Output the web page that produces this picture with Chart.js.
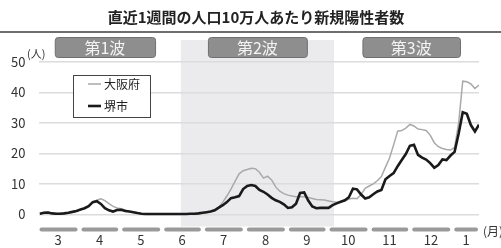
<!DOCTYPE html>
<html>
<head>
<meta charset="utf-8">
<script src="https://cdn.jsdelivr.net/npm/chart.js@4.4.1/dist/chart.umd.min.js"></script>
<style>
  html, body { margin: 0; padding: 0; background: #fff; }
  canvas { display: block; }
</style>
</head>
<body>
<canvas id="canvas" width="501" height="248"></canvas>
<script>
// days counted from March 1st; one reading every 3 days starting on day 1
const firstDay = 1;
const dayStep = 3;

// 堺市 (black)
const sakai = [
  0.2, 0.5, 0.6, 0.3, 0.2, 0.2, 0.3, 0.5, 0.8, 1.1,
  1.6, 2.0, 2.7, 4.0, 4.3, 3.4, 2.0, 1.3, 0.9, 1.4,
  1.5, 1.1, 0.9, 0.7, 0.4, 0.2, 0.1, 0.1, 0.1, 0.1,
  0.1, 0.1, 0.1, 0.1, 0.1, 0.1, 0.1, 0.2, 0.2, 0.3,
  0.5, 0.7, 0.9, 1.3, 2.2, 3.0, 4.0, 5.3, 5.6, 6.0,
  8.3, 9.3, 9.6, 9.3, 8.0, 7.4, 6.5, 5.4, 4.6, 4.1,
  3.3, 2.1, 2.3, 3.5, 7.0, 7.2, 4.5, 2.6, 2.0, 2.1,
  2.1, 2.1, 3.0, 3.6, 4.1, 4.6, 5.6, 8.4, 8.2, 6.5,
  5.2, 5.6, 6.6, 7.5, 8.0, 11.5, 12.6, 13.5, 15.8, 17.8,
  19.8, 22.5, 22.8, 19.5, 18.6, 18.0, 16.8, 15.3, 16.2, 18.0,
  17.8, 19.3, 20.5, 26.5, 33.5, 33.0, 29.3, 27.2, 29.4
];

// 大阪府 (grey)
const osaka = [
  0.2, 0.6, 0.7, 0.4, 0.3, 0.3, 0.3, 0.5, 0.7, 1.0,
  1.5, 2.0, 2.8, 4.0, 4.6, 5.1, 4.5, 3.5, 2.6, 2.1,
  1.8, 1.4, 1.0, 0.7, 0.4, 0.2, 0.1, 0.1, 0.1, 0.1,
  0.1, 0.1, 0.1, 0.1, 0.1, 0.1, 0.1, 0.1, 0.1, 0.2,
  0.4, 0.6, 1.0, 1.5, 2.3, 4.0, 6.0, 8.3, 10.8, 13.3,
  14.3, 14.7, 15.1, 15.0, 13.8, 11.9, 12.5, 11.3, 9.0, 7.6,
  6.8, 6.3, 6.0, 5.8, 5.8, 5.8, 5.5, 5.2, 4.9, 4.8,
  4.7, 4.4, 4.1, 4.0, 4.1, 4.4, 5.0, 5.3, 5.1, 6.5,
  8.5, 9.3, 10.0, 11.0, 12.4, 15.5, 18.5, 22.8, 27.3, 27.5,
  28.3, 29.5, 29.0, 28.0, 27.8, 27.5, 26.0, 23.5, 22.2, 21.6,
  21.3, 21.1, 22.0, 30.0, 43.7, 43.5, 42.8, 41.3, 42.4
];

const monthLabels = ["3", "4", "5", "6", "7", "8", "9", "10", "11", "12", "1"];
const monthStarts = [0, 31, 61, 92, 122, 153, 184, 214, 245, 275, 306];
const yTicks = [0, 10, 20, 30, 40, 50];

const waves = [
  { label: "第1波", from: 12, to: 86 },
  { label: "第2波", from: 125, to: 198 },
  { label: "第3波", from: 239, to: 311 }
];
const secondWave = { from: 105, to: 218 };

const xMax = 325;
const yMin = -4;
const yMax = 50;
const FONT = "'Noto Sans CJK JP', 'Noto Sans', sans-serif";

const toPoints = arr => arr.map((v, i) => ({ x: firstDay + i * dayStep, y: v }));

const decor = {
  id: "decor",
  beforeDraw(chart) {
    const { ctx, scales: { x, y } } = chart;
    ctx.save();
    ctx.fillStyle = "#ebebed";
    const x0 = x.getPixelForValue(secondWave.from);
    const x1 = x.getPixelForValue(secondWave.to);
    ctx.fillRect(x0, 40, x1 - x0, y.getPixelForValue(yMin) - 40);
    ctx.restore();
  },
  afterDraw(chart) {
    const { ctx, scales: { x } } = chart;
    ctx.save();

    // title + rule
    ctx.fillStyle = "#222";
    ctx.font = "bold 15px " + FONT;
    ctx.textAlign = "center";
    ctx.textBaseline = "middle";
    ctx.fillText("直近1週間の人口10万人あたり新規陽性者数", 256, 17);
    ctx.fillStyle = "#6e6e6e";
    ctx.fillRect(0, 31, 501, 2);

    // wave boxes
    waves.forEach(w => {
      const a = x.getPixelForValue(w.from), b = x.getPixelForValue(w.to);
      ctx.beginPath();
      ctx.roundRect(a + 0.5, 37.5, b - a, 20, 3);
      ctx.fillStyle = "#8e8e8e";
      ctx.fill();
      ctx.strokeStyle = "#6f6f6f";
      ctx.lineWidth = 1;
      ctx.stroke();
      ctx.fillStyle = "#f4f4f4";
      ctx.font = "16px " + FONT;
      ctx.textAlign = "center";
      ctx.textBaseline = "middle";
      ctx.fillText(w.label, (a + b) / 2, 48);
    });

    // month bars
    ctx.strokeStyle = "#9a9a9a";
    ctx.lineWidth = 4;
    ctx.lineCap = "round";
    monthStarts.forEach((s, i) => {
      const p0 = x.getPixelForValue(s);
      const next = monthStarts[i + 1];
      const p1 = next === undefined ? x.right + 2 : x.getPixelForValue(next);
      ctx.beginPath();
      ctx.moveTo(p0 + 3, 229.5);
      ctx.lineTo(p1 - 5, 229.5);
      ctx.stroke();
    });

    // units
    ctx.fillStyle = "#333";
    ctx.font = "11px " + FONT;
    ctx.textAlign = "left";
    ctx.textBaseline = "middle";
    ctx.fillText("(人)", 27, 54);
    ctx.font = "12px " + FONT;
    ctx.fillText("(月)", 483, 231);

    // legend box
    ctx.fillStyle = "#fff";
    ctx.fillRect(73.5, 75.5, 77, 42);
    ctx.strokeStyle = "#444";
    ctx.lineWidth = 1;
    ctx.strokeRect(73.5, 75.5, 77, 42);
    const legendOrder = [1, 0];
    legendOrder.forEach((di, j) => {
      const ds = chart.data.datasets[di];
      const ly = 84 + j * 22;
      ctx.strokeStyle = ds.borderColor;
      ctx.lineWidth = ds.borderWidth;
      ctx.lineCap = "butt";
      ctx.beginPath();
      ctx.moveTo(88, ly);
      ctx.lineTo(101, ly);
      ctx.stroke();
      ctx.fillStyle = "#222";
      ctx.font = "12px " + FONT;
      ctx.textAlign = "left";
      ctx.textBaseline = "middle";
      ctx.fillText(ds.label, 104, ly);
    });
    ctx.restore();
  }
};

new Chart(document.getElementById("canvas").getContext("2d"), {
  type: "line",
  data: {
    datasets: [
      {
        label: "堺市",
        data: toPoints(sakai),
        borderColor: "#1a1a1a",
        borderWidth: 2.6,
        pointRadius: 0,
        tension: 0
      },
      {
        label: "大阪府",
        data: toPoints(osaka),
        borderColor: "#a9a9a9",
        borderWidth: 1.5,
        pointRadius: 0,
        tension: 0
      }
    ]
  },
  options: {
    responsive: false,
    animation: false,
    devicePixelRatio: 1,
    layout: { padding: { left: 0, top: 62, right: 22, bottom: 0 } },
    plugins: {
      legend: { display: false },
      tooltip: { enabled: false }
    },
    scales: {
      x: {
        type: "linear",
        min: 0,
        max: xMax,
        grid: { display: false, drawTicks: false },
        border: { display: false },
        afterBuildTicks: s => {
          s.ticks = monthStarts.map((m, i) => {
            const e = monthStarts[i + 1] === undefined ? xMax + 2 : monthStarts[i + 1];
            return { value: (m + e) / 2 - 1 };
          });
        },
        afterFit: s => { s.height = 21.5; },
        ticks: {
          autoSkip: false,
          maxRotation: 0,
          padding: 6,
          color: "#333",
          font: { family: FONT, size: 13 },
          callback: (v, i) => monthLabels[i]
        }
      },
      y: {
        min: yMin,
        max: yMax,
        afterBuildTicks: s => {
          s.ticks = yTicks.map(v => ({ value: v }));
        },
        afterFit: s => { s.width = 38.5; },
        grid: { color: "#dcdcdc", lineWidth: 1.5, drawTicks: false },
        border: { display: false },
        ticks: {
          padding: 13,
          color: "#333",
          font: { family: FONT, size: 13 }
        }
      }
    }
  },
  plugins: [decor]
});
</script>
</body>
</html>
